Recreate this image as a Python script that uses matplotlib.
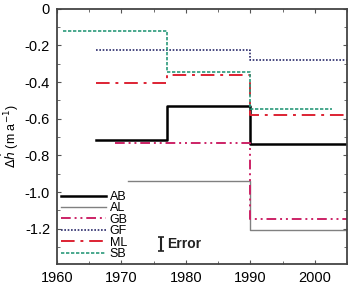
import matplotlib
matplotlib.use('Agg')
import matplotlib.pyplot as plt
from matplotlib.ticker import MultipleLocator

plt.rcParams['font.family'] = ['Liberation Sans', 'DejaVu Sans']

# period boundaries (years) and step values (m a-1) for each glacier
ab_years = [1966, 1977, 1990, 2005]
ab_vals = [-0.714, -0.532, -0.736, -0.736]
al_years = [1971, 1990, 2005]
al_vals = [-0.94, -1.205, -1.205]
gb_years = [1969, 1990, 2005]
gb_vals = [-0.732, -1.148, -1.148]
gf_years = [1966, 1990, 2005]
gf_vals = [-0.226, -0.277, -0.277]
ml_years = [1966, 1977, 1990, 2005]
ml_vals = [-0.404, -0.362, -0.577, -0.577]
sb_years = [1961, 1977, 1990, 2002.7]
sb_vals = [-0.122, -0.344, -0.544, -0.544]

error_year = 1976.2
error_val = -1.283
error_size = 0.036

fig = plt.figure(figsize=(3.52, 2.85), dpi=100)
ax = fig.add_axes([0.162, 0.075, 0.824, 0.894])

ax.step(ab_years, ab_vals, where='post', color='black', lw=1.8, label='AB')
ax.step(al_years, al_vals, where='post', color='#808080', lw=1.0, label='AL')
ax.step(gb_years, gb_vals, where='post', color='#cc2266', lw=1.4,
        dashes=(5, 2, 1, 2, 1, 2), label='GB')
ax.step(gf_years, gf_vals, where='post', color='#2a2a6a', lw=1.2,
        dashes=(1, 1), label='GF')
ax.step(ml_years, ml_vals, where='post', color='#dd2233', lw=1.4,
        dashes=(7, 3, 1.5, 3), label='ML')
ax.step(sb_years, sb_vals, where='post', color='#2a9a7a', lw=1.2,
        dashes=(2, 1), label='SB')

# error bar indicator
ax.errorbar([error_year], [error_val], yerr=[error_size], color='#222222',
            lw=1.5, capsize=2, capthick=1.2, fmt='none')
ax.text(error_year + 0.9, error_val, 'Error', fontsize=10, fontweight='bold',
        va='center', ha='left', color='#222222')

ax.set_xlim(1960, 2005)
ax.set_ylim(-1.39, 0)
ax.xaxis.set_major_locator(MultipleLocator(10))
ax.xaxis.set_minor_locator(MultipleLocator(5))
ax.yaxis.set_minor_locator(MultipleLocator(0.1))
ax.set_yticks([0, -0.2, -0.4, -0.6, -0.8, -1.0, -1.2])
ax.set_yticklabels(['0', '-0.2', '-0.4', '-0.6', '-0.8', '-1.0', '-1.2'])
ax.tick_params(which='both', direction='in', top=True, right=True,
               labelsize=10.5, color='#555555')
ax.tick_params(which='major', length=3, pad=5)
ax.tick_params(which='minor', length=2)
for s in ax.spines.values():
    s.set_color('#444444')
    s.set_linewidth(1.3)

ax.set_ylabel(r'$\Delta\dot{h}$ (m a$^{-1}$)', fontsize=9, labelpad=3)

ax.legend(loc='lower left', fontsize=9, frameon=False, handlelength=3.6,
          labelspacing=-0.05, handletextpad=0.3, borderaxespad=0.1,
          borderpad=0.2)

fig.savefig('out.png', dpi=100)
